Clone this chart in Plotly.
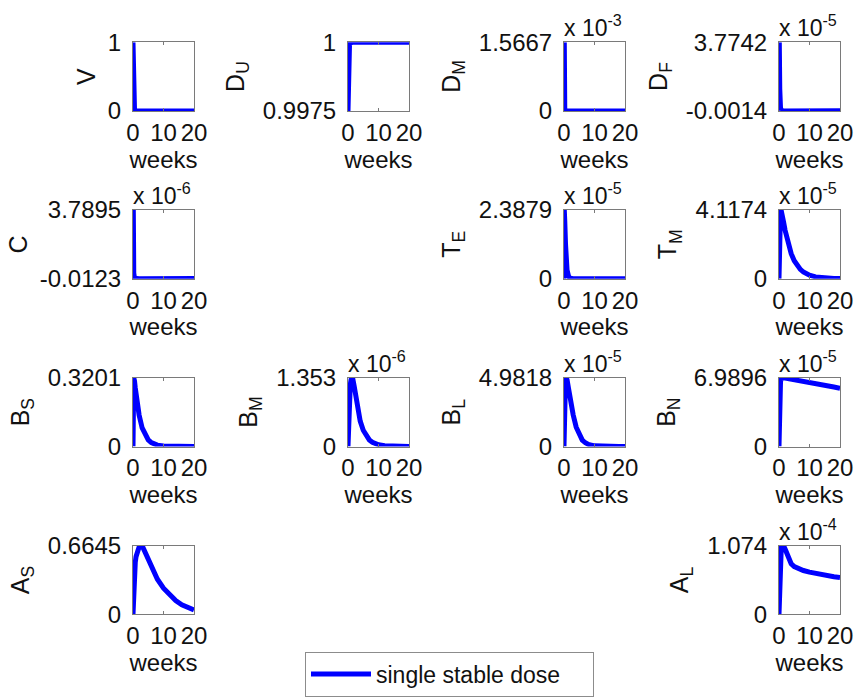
import plotly.graph_objects as go

# Time axis (weeks) shared by every state variable
weeks = [0, 0.1, 0.25, 0.5, 0.75, 1, 1.5, 2, 3, 4, 5, 6, 7, 8, 10, 12, 14, 16, 18, 20]

# State trajectories for a single stable dose (values in the units of each panel,
# i.e. already divided by the power of ten printed above the axes)
V   = [1.0, 0.0, 0.0, 0.0, 0.0, 0.0, 0.0, 0.0, 0.0, 0.0, 0.0, 0.0, 0.0, 0.0, 0.0, 0.0, 0.0, 0.0, 0.0, 0.0]
D_U = [0.9975, 0.9992, 0.99985, 0.99995, 0.99998, 1.0, 1.0, 1.0, 1.0, 1.0, 1.0, 1.0, 1.0, 1.0, 1.0, 1.0, 1.0, 1.0, 1.0, 1.0]
D_M = [0.0, 1.5667, 0.05, 0.002, 0.0, 0.0, 0.0, 0.0, 0.0, 0.0, 0.0, 0.0, 0.0, 0.0, 0.0, 0.0, 0.0, 0.0, 0.0, 0.0]
D_F = [0.0, 3.7742, 1.2, 0.15, 0.01, 0.0, -0.0014, -0.0012, -0.001, -0.0009, -0.0008, -0.0007, -0.0006, -0.0005, -0.0004, -0.0003, -0.0002, -0.0002, -0.0001, -0.0001]
C   = [0.0, 3.7895, 0.3, 0.01, 0.0, -0.0123, -0.011, -0.01, -0.009, -0.008, -0.007, -0.006, -0.005, -0.004, -0.003, -0.002, -0.002, -0.001, -0.001, -0.001]
T_E = [0.0, 2.3879, 2.0, 1.2, 0.6, 0.3, 0.08, 0.02, 0.002, 0.0, 0.0, 0.0, 0.0, 0.0, 0.0, 0.0, 0.0, 0.0, 0.0, 0.0]
T_M = [0.0, 2.5, 3.8, 4.1174, 4.05, 3.9, 3.4, 2.9, 2.1, 1.5, 1.08, 0.78, 0.56, 0.40, 0.21, 0.11, 0.06, 0.03, 0.016, 0.008]
B_S = [0.0, 0.288, 0.3201, 0.304, 0.272, 0.243, 0.192, 0.147, 0.0864, 0.0512, 0.0304, 0.0179, 0.0106, 0.0064, 0.0022, 0.0008, 0.0003, 0.0001, 0.0, 0.0]
B_M = [0.0, 0.25, 0.6, 1.0, 1.22, 1.32, 1.353, 1.2, 0.78, 0.5, 0.32, 0.2, 0.13, 0.085, 0.035, 0.014, 0.006, 0.0024, 0.001, 0.0004]
B_L = [0.0, 2.2, 3.8, 4.9, 4.9818, 4.85, 4.2, 3.5, 2.3, 1.4, 0.8, 0.46, 0.27, 0.15, 0.05, 0.017, 0.006, 0.002, 0.0007, 0.0002]
B_N = [0.0, 2.5, 5.0, 6.6, 6.95, 6.9896, 6.98, 6.96, 6.91, 6.86, 6.8, 6.74, 6.68, 6.63, 6.51, 6.40, 6.28, 6.17, 6.05, 5.93]
A_S = [0.0, 0.133, 0.279, 0.425, 0.505, 0.558, 0.618, 0.651, 0.6645, 0.598, 0.512, 0.445, 0.385, 0.339, 0.2525, 0.186, 0.133, 0.093, 0.0665, 0.0432]
A_L = [0.0, 0.3, 0.7, 0.98, 1.05, 1.065, 1.074, 1.02, 0.88, 0.79, 0.745, 0.72, 0.70, 0.685, 0.66, 0.638, 0.618, 0.60, 0.587, 0.575]

# Panel labels, y tick labels and power-of-ten multipliers
labels     = ["V", "D<sub>U</sub>", "D<sub>M</sub>", "D<sub>F</sub>",
              "C", "T<sub>E</sub>", "T<sub>M</sub>",
              "B<sub>S</sub>", "B<sub>M</sub>", "B<sub>L</sub>", "B<sub>N</sub>",
              "A<sub>S</sub>", "A<sub>L</sub>"]
series     = [V, D_U, D_M, D_F, C, T_E, T_M, B_S, B_M, B_L, B_N, A_S, A_L]
ytick_low  = ["0", "0.9975", "0", "-0.0014", "-0.0123", "0", "0", "0", "0", "0", "0", "0", "0"]
ytick_high = ["1", "1", "1.5667", "3.7742", "3.7895", "2.3879", "4.1174", "0.3201", "1.353", "4.9818", "6.9896", "0.6645", "1.074"]
exponents  = [None, None, -3, -5, -6, -5, -5, None, -6, -5, -5, None, -4]
xticks     = [0, 10, 20]
legend_name = "single stable dose"

# Grid slot (row, column) of each panel in the 4 x 4 arrangement
slots = [(0, 0), (0, 1), (0, 2), (0, 3),
         (1, 0), (1, 2), (1, 3),
         (2, 0), (2, 1), (2, 2), (2, 3),
         (3, 0), (3, 3)]

W, H = 855, 697
col_left = [133, 348, 564, 779]
row_top = [43, 214, 385, 556]
box_w, box_h = 61, 70

FONT = "Liberation Sans, Arial, Helvetica, sans-serif"
TXT = "#111111"
BOX = "#7a7a7a"
BLUE = "#0000ff"

fig = go.Figure()
annotations = []

for i, (lab, ys, lo, hi, ex, (r, c)) in enumerate(
        zip(labels, series, ytick_low, ytick_high, exponents, slots)):
    n = i + 1
    xa = "x" if n == 1 else f"x{n}"
    ya = "y" if n == 1 else f"y{n}"
    x0 = col_left[c] / W
    x1 = (col_left[c] + box_w) / W
    y1 = 1 - row_top[r] / H
    y0 = 1 - (row_top[r] + box_h) / H
    ymin, ymax = min(ys), max(ys)

    fig.add_trace(go.Scatter(
        x=weeks, y=ys, xaxis=xa, yaxis=ya, mode="lines",
        line=dict(color=BLUE, width=5), name=legend_name,
        showlegend=(n == 1), cliponaxis=False, hoverinfo="skip"))

    common = dict(showline=True, linecolor=BOX, linewidth=1, mirror="ticks",
                  ticks="inside", ticklen=3, tickcolor=BOX, showgrid=False,
                  zeroline=False, automargin=False,
                  tickfont=dict(family=FONT, size=24, color=TXT),
                  fixedrange=True)
    fig.update_layout(**{
        ("xaxis" if n == 1 else f"xaxis{n}"): dict(
            common, domain=[x0, x1], anchor=ya, range=[0, 20],
            tickvals=xticks, ticktext=[str(t) for t in xticks],
            ticklabelstandoff=0,
            title=dict(text="weeks", font=dict(family=FONT, size=24, color=TXT),
                       standoff=0)),
        ("yaxis" if n == 1 else f"yaxis{n}"): dict(
            common, domain=[y0, y1], anchor=xa, range=[ymin, ymax],
            tickvals=[ymin, ymax], ticktext=[lo, hi], ticklabelstandoff=6,
            title=dict(text=lab, font=dict(family=FONT, size=25, color=TXT),
                       standoff=11 if "<sub>" in lab else 5)),
    })

    if ex is not None:
        annotations.append(dict(
            text=f"x 10<sup>{ex}</sup>", xref="paper", yref="paper",
            x=x0, y=y1, xanchor="left", yanchor="bottom", showarrow=False,
            xshift=-2, yshift=-1, font=dict(family=FONT, size=23, color=TXT)))

fig.update_layout(
    template="none",
    width=W, height=H, margin=dict(l=0, r=0, t=0, b=0),
    paper_bgcolor="white", plot_bgcolor="white",
    annotations=annotations,
    showlegend=True,
    legend=dict(x=305 / W, y=1 - 664 / H, xanchor="left", yanchor="top",
                orientation="h", entrywidth=212, entrywidthmode="pixels",
                bgcolor="white", bordercolor="#8c8c8c", borderwidth=1,
                font=dict(family=FONT, size=23, color=TXT), itemwidth=60),
)

fig.write_html("out.html")
